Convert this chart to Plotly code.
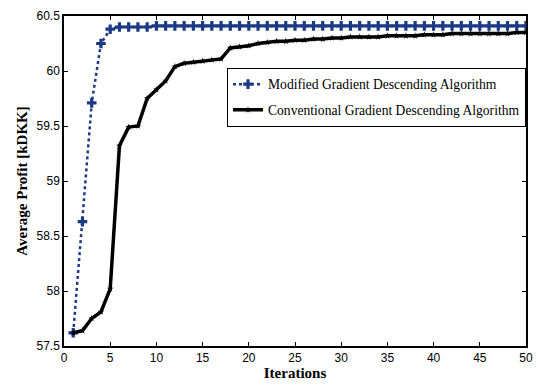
import plotly.graph_objects as go

iterations = list(range(1, 51))
modified = [57.62, 58.63, 59.71, 60.25, 60.38, 60.40, 60.40, 60.40, 60.40, 60.41,
            60.41, 60.41, 60.41, 60.41, 60.41, 60.41, 60.41, 60.41, 60.41, 60.41,
            60.41, 60.41, 60.41, 60.41, 60.41, 60.41, 60.41, 60.41, 60.41, 60.41,
            60.41, 60.41, 60.41, 60.41, 60.41, 60.41, 60.41, 60.41, 60.41, 60.41,
            60.41, 60.41, 60.41, 60.41, 60.41, 60.41, 60.41, 60.41, 60.41, 60.41]
conventional = [57.62, 57.64, 57.75, 57.81, 58.02, 59.32, 59.49, 59.50, 59.75, 59.83,
                59.91, 60.04, 60.07, 60.08, 60.09, 60.10, 60.11, 60.21, 60.22, 60.23,
                60.25, 60.26, 60.27, 60.27, 60.28, 60.28, 60.29, 60.29, 60.30, 60.30,
                60.31, 60.31, 60.31, 60.31, 60.32, 60.32, 60.32, 60.32, 60.33, 60.33,
                60.33, 60.34, 60.34, 60.34, 60.34, 60.34, 60.34, 60.34, 60.35, 60.35]

blue = "#1b3a85"

fig = go.Figure()
fig.add_trace(go.Scatter(
    x=iterations, y=modified, mode="lines+markers",
    name="Modified Gradient Descending Algorithm", legendgroup="a",
    line=dict(color=blue, width=2.5, dash="dot"),
    marker=dict(symbol="cross", size=8, color=blue),
))
fig.add_trace(go.Scatter(
    x=iterations, y=conventional, mode="lines+markers",
    name="Conventional Gradient Descending Algorithm", legendgroup="b",
    line=dict(color="black", width=3.5),
    marker=dict(symbol="star", size=5, color="black"),
))

axis_common = dict(
    showgrid=False, zeroline=False, showline=True, linecolor="black", linewidth=1.5,
    mirror="ticks", ticks="inside", ticklen=4, tickcolor="black",
    tickfont=dict(family="Liberation Sans, Arial", size=12, color="black"),
)

fig.update_layout(
    width=542, height=390,
    margin=dict(l=64, r=15, t=9, b=44),
    paper_bgcolor="white", plot_bgcolor="white",
    showlegend=True,
    legend=dict(
        x=1, xanchor="right", y=0.843, yanchor="top",
        bordercolor="black", borderwidth=1, bgcolor="white",
        font=dict(family="Liberation Serif, Times New Roman", size=13.6, color="black"),
        tracegroupgap=5,
    ),
    xaxis=dict(range=[0, 50], tickvals=list(range(0, 51, 5)),
               title=dict(text="<b>Iterations</b>", standoff=3,
                          font=dict(family="Liberation Serif, Times New Roman", size=15, color="black")),
               **axis_common),
    yaxis=dict(range=[57.5, 60.5], tickvals=[57.5, 58, 58.5, 59, 59.5, 60, 60.5],
               ticktext=["57.5", "58", "58.5", "59", "59.5", "60", "60.5"],
               title=dict(text="<b>Average Profit [kDKK]</b>", standoff=5,
                          font=dict(family="Liberation Serif, Times New Roman", size=15, color="black")),
               **axis_common),
)

fig.write_html("out.html")
